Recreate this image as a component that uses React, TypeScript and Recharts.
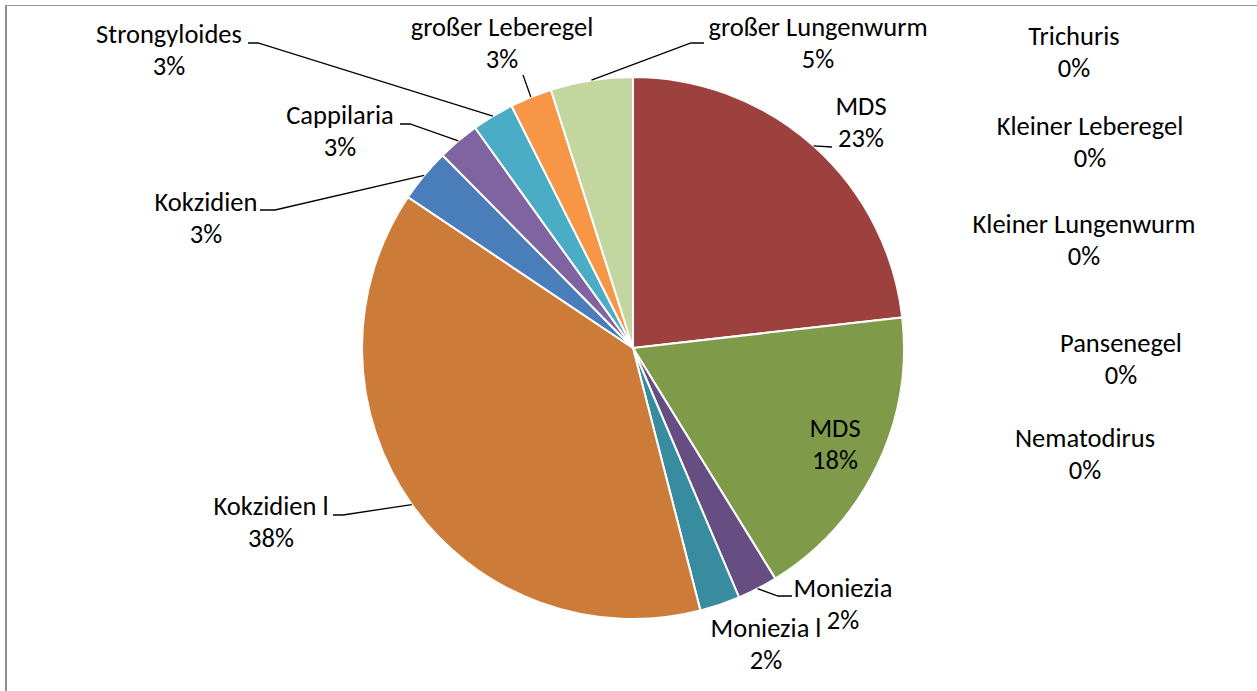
import React from 'react';
import { PieChart, Pie, Cell } from 'recharts';

// ---- data ----
const categories: string[] = [
  'MDS',
  'MDS',
  'Moniezia',
  'Moniezia l',
  'Kokzidien l',
  'Kokzidien',
  'Cappilaria',
  'Strongyloides',
  'großer Leberegel',
  'großer Lungenwurm',
  'Trichuris',
  'Kleiner Leberegel',
  'Kleiner Lungenwurm',
  'Pansenegel',
  'Nematodirus',
];
const shares: number[] = [23.2, 18.0, 2.4, 2.4, 38.4, 3.2, 2.5, 2.5, 2.5, 4.9, 0, 0, 0, 0, 0];
const sliceColors: string[] = [
  '#9D413F', '#7F9B4A', '#664D82', '#388CA0', '#CD7B38', '#4A7EBB', '#8064A2',
  '#4BACC6', '#F79646', '#C4D6A0', '#4F81BD', '#C0504D', '#9BBB59', '#8064A2', '#4BACC6',
];

const data = categories.map((name, i) => ({ name, value: shares[i] }));

// ---- label layout (offsets from pie centre, styling only) ----
type LabelLayout = {
  tx: number; // text centre x offset
  ty: number; // first line baseline offset
  leader?: number[][]; // extra points after the slice edge point
};
const labelLayout: LabelLayout[] = [
  { tx: 228, ty: -233, leader: [[199, -201]] },
  { tx: 202, ty: 89 },
  { tx: 210, ty: 249, leader: [[145, 248], [159, 248]] },
  { tx: 133, ty: 289 },
  { tx: -362, ty: 167, leader: [[-290, 167], [-300, 167]] },
  { tx: -427, ty: -137, leader: [[-358, -138], [-373, -138]] },
  { tx: -293, ty: -224, leader: [[-223, -224], [-233, -224]] },
  { tx: -464, ty: -305, leader: [[-375, -305], [-385, -305]] },
  { tx: -131, ty: -312, leader: [[-110, -273]] },
  { tx: 185, ty: -312, leader: [[58, -305], [71, -305]] },
  { tx: 441, ty: -303 },
  { tx: 457, ty: -213 },
  { tx: 451, ty: -115 },
  { tx: 488, ty: 4 },
  { tx: 452, ty: 99 },
];

const FONT = 'Carlito, Calibri, Lato, sans-serif';
const FONT_SIZE = 26.5;
const LINE_GAP = 32;
const RAD = Math.PI / 180;

const renderLabel = (props: any) => {
  const { cx, cy, midAngle, outerRadius, index, name, value } = props;
  const lay = labelLayout[index];
  if (!lay) return null;
  const total = shares.reduce((a, b) => a + b, 0);
  const pct = Math.round((value / total) * 100 + 1e-9);
  const x = cx + lay.tx;
  const y = cy + lay.ty;
  let line: React.ReactNode = null;
  if (lay.leader) {
    const ex = cx + outerRadius * Math.cos(-midAngle * RAD);
    const ey = cy + outerRadius * Math.sin(-midAngle * RAD);
    const pts = [[ex, ey], ...lay.leader.map(([dx, dy]) => [cx + dx, cy + dy])];
    line = (
      <polyline
        points={pts.map((p) => p.join(',')).join(' ')}
        fill="none"
        stroke="#000"
        strokeWidth={1.3}
      />
    );
  }
  return (
    <g key={`lbl-${index}`}>
      {line}
      <text
        x={x}
        y={y}
        textAnchor="middle"
        fontFamily={FONT}
        fontSize={FONT_SIZE}
        fill="#000"
      >
        {name}
      </text>
      <text
        x={x}
        y={y + LINE_GAP}
        textAnchor="middle"
        fontFamily={FONT}
        fontSize={FONT_SIZE}
        fill="#000"
      >
        {`${pct}%`}
      </text>
    </g>
  );
};

export default function App() {
  return (
    <div
      style={{
        position: 'fixed',
        left: 0,
        top: 0,
        width: 1257,
        height: 691,
        background: '#fff',
        overflow: 'hidden',
      }}
    >
      <div
        style={{
          position: 'absolute',
          left: 5,
          top: 5,
          width: 1300,
          height: 720,
          borderLeft: '2px solid #8f8f8f',
          borderTop: '1.5px solid #9a9a9a',
        }}
      />
      <div style={{ position: 'absolute', left: 0, top: 0 }}>
        <PieChart width={1257} height={691}>
          <Pie
            data={data}
            dataKey="value"
            nameKey="name"
            cx={628}
            cy={343}
            outerRadius={271}
            startAngle={90}
            endAngle={-270}
            stroke="#fff"
            strokeWidth={2}
            label={renderLabel}
            labelLine={false}
            isAnimationActive={false}
          >
            {data.map((d, i) => (
              <Cell key={d.name + i} fill={sliceColors[i]} />
            ))}
          </Pie>
        </PieChart>
      </div>
    </div>
  );
}
